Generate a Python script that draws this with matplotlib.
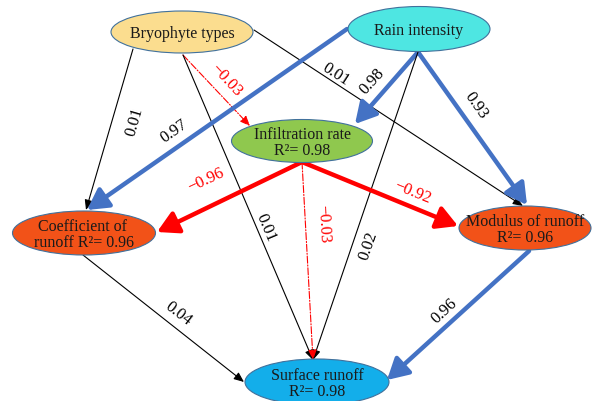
import matplotlib
matplotlib.use("Agg")
from matplotlib import pyplot as plt
from matplotlib.patches import Ellipse, FancyArrowPatch

# nodes of the path model
nodes = ["Bryophyte types", "Rain intensity", "Infiltration rate",
         "Coefficient of runoff", "Modulus of runoff", "Surface runoff"]
node_labels = ["Bryophyte types", "Rain intensity", "Infiltration rate\nR²= 0.98",
               "Coefficient of \nrunoff R²= 0.96", "Modulus of runoff\nR²= 0.96",
               "Surface runoff\nR²= 0.98"]

# path coefficients (source, target, value)
sources = ["Bryophyte types", "Bryophyte types", "Bryophyte types", "Bryophyte types",
           "Rain intensity", "Rain intensity", "Rain intensity", "Rain intensity",
           "Infiltration rate", "Infiltration rate", "Infiltration rate",
           "Coefficient of runoff", "Modulus of runoff"]
targets = ["Coefficient of runoff", "Infiltration rate", "Surface runoff", "Modulus of runoff",
           "Coefficient of runoff", "Infiltration rate", "Modulus of runoff", "Surface runoff",
           "Coefficient of runoff", "Modulus of runoff", "Surface runoff",
           "Surface runoff", "Surface runoff"]
coefs = [0.01, -0.03, 0.01, 0.01,
         0.97, 0.98, 0.93, 0.02,
         -0.96, -0.92, -0.03,
         0.04, 0.96]

# layout (pixel coordinates of the picture)
node_xy = {"Bryophyte types": (182, 33), "Rain intensity": (419, 30),
           "Infiltration rate": (302, 142), "Coefficient of runoff": (84, 234),
           "Modulus of runoff": (525, 229), "Surface runoff": (317, 383)}
node_wh = {"Bryophyte types": (142, 42), "Rain intensity": (142, 45),
           "Infiltration rate": (141, 43), "Coefficient of runoff": (143, 44),
           "Modulus of runoff": (132, 44), "Surface runoff": (144, 46)}
node_col = {"Bryophyte types": "#fbdd8f", "Rain intensity": "#4ee6e2",
            "Infiltration rate": "#8fc84e", "Coefficient of runoff": "#f25218",
            "Modulus of runoff": "#f25218", "Surface runoff": "#13aeea"}

edge_pts = [((133, 50), (86, 211)), ((183, 56), (250, 127)), ((183, 56), (313, 361)),
            ((254, 31), (523, 207)),
            ((347, 30), (87, 211)), ((418, 53), (355, 125)), ((418, 53), (527, 206)),
            ((418, 53), (313, 361)),
            ((302, 163), (157, 233)), ((302, 163), (458, 227)), ((302, 163), (313, 361)),
            ((83, 256), (244, 383)), ((529, 252), (387, 381))]
label_xy = [(135, 122), (226, 80), (266, 228), (336, 75),
            (174, 131), (372, 82), (476, 106), (368, 246),
            (206, 180), (412, 192), (323, 224),
            (178, 314), (444, 311)]
label_rot = [74, -47, -67, -33, 35, 48, -55, 71, 25, -22, -87, -38, 43]

fig = plt.figure(figsize=(5.92, 4.02), dpi=100)
ax = fig.add_axes([0, 0, 1, 1])
ax.set_xlim(0, 592)
ax.set_ylim(402, 0)
ax.axis("off")

font = "Liberation Serif"

for i in range(len(coefs)):
    v = coefs[i]
    strong = abs(v) > 0.5
    if v < 0:
        col = "#ff0000"
    elif strong:
        col = "#4472c4"
    else:
        col = "black"
    if strong:
        style = "-|>,head_length=0.9,head_width=0.5"
        lw, ls, ms = 3.2, "-", 14
    else:
        style = "-|>,head_length=0.6,head_width=0.25"
        lw, ls, ms = 0.8, "-" if v > 0 else "-.", 10
    (x0, y0), (x1, y1) = edge_pts[i]
    arr = FancyArrowPatch((x0, y0), (x1, y1), arrowstyle=style, mutation_scale=ms,
                          color=col, lw=lw, linestyle=ls, shrinkA=0, shrinkB=0, zorder=2)
    ax.add_patch(arr)
    txt = f"{v:.2f}".replace("-", "\u2212")
    lx, ly = label_xy[i]
    ax.text(lx, ly, txt, rotation=label_rot[i], ha="center", va="center",
            fontsize=12, family=font, color="#ff0000" if v < 0 else "black",
            rotation_mode="anchor", zorder=3)

for n, lab in zip(nodes, node_labels):
    x, y = node_xy[n]
    w, h = node_wh[n]
    ax.add_patch(Ellipse((x, y), w, h, facecolor=node_col[n], edgecolor="#41719c",
                         lw=0.8, zorder=4))
    ax.text(x, y + 1, lab, ha="center", va="center", fontsize=11.5, family=font,
            linespacing=1.0, color="#1a1a1a", zorder=5)

fig.savefig("out.png", dpi=100)
